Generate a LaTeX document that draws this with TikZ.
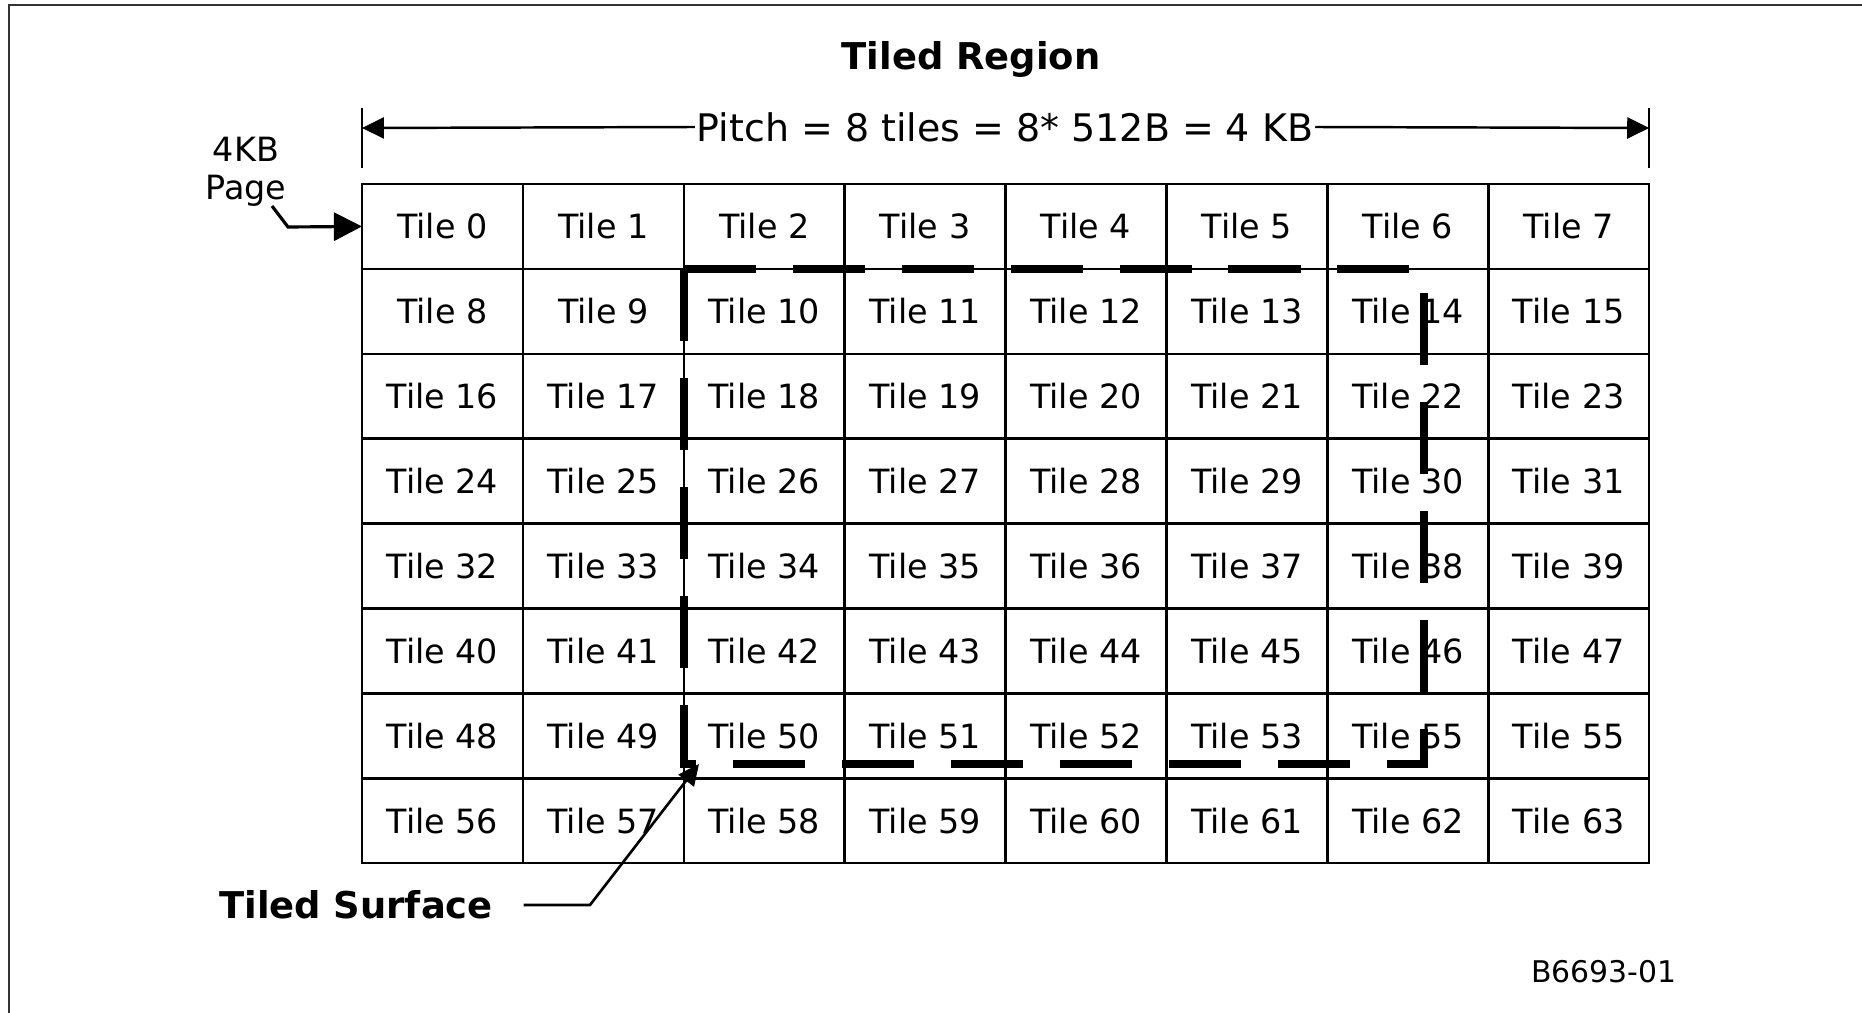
\documentclass[tikz,border=0pt]{standalone}
\usepackage{fontspec}
\setmainfont{DejaVu Sans}
\usetikzlibrary{arrows.meta, positioning}

\tikzset{
  tilebox/.style={draw, line width=1.4pt, outer sep=0pt, inner sep=0pt, anchor=north west,
    minimum width=3.218cm, minimum height=1.698cm, font=\fontsize{19}{23}\selectfont},
  surfline/.style={line width=4.8pt, dash pattern=on 41pt off 21pt},
  callout/.style={line width=1.8pt, -{Triangle[length=16pt,width=16pt]}},
  dimarrow/.style={line width=1.4pt, -{Triangle[length=12.5pt,width=12pt]}},
}

\begin{document}
\begin{tikzpicture}[x=0.02cm, y=-0.02cm]
\useasboundingbox (0,0) rectangle (1862,1013);

% frame
\draw[line width=1.3pt, black!80] (9,1013) -- (9,5) -- (1862,5);

\node (title) at (971,59) {\fontsize{21}{25}\selectfont\bfseries Tiled Region};

% tiles
\foreach \r in {0,...,7} {
  \foreach \c in {0,...,7} {
    \pgfmathtruncatemacro\n{8*\r+\c}
    \ifnum\n=54 \def\lbl{55}\else\let\lbl\n\fi
    \node[tilebox] (t\n) at ({362+160.9*\c},{184+84.9*\r}) {Tile \lbl};
  }
}

% pitch
\draw[line width=1.4pt] (t0.north west) ++(0,-76) -- ++(0,60);
\draw[line width=1.4pt] (t7.north east) ++(0,-76) -- ++(0,60);
\coordinate (tickL) at (t0.north west |- 0,128);
\coordinate (tickR) at (t7.north east |- 0,128);
\node[inner sep=1pt, font=\fontsize{21.6}{25}\selectfont] (pitch) at (1005,127) {Pitch = 8 tiles = 8* 512B = 4 KB};
\draw[dimarrow] (pitch.west) -- (tickL);
\draw[dimarrow] (pitch.east) -- (tickR);

% 4KB page
\node[align=center, font=\fontsize{19}{21.5}\selectfont] (page) at (246,172) {4KB\\Page};
\coordinate (pagefoot) at (272,206);
\draw[callout] (pagefoot) -- (288,227) -- (t0.west);

% tiled surface
\coordinate (sTL) at (t10.north west);
\coordinate (sBR) at (1424,764);
\draw[surfline] (sTL) -- (sTL -| sBR);
\draw[surfline] (sTL) -- (sTL |- sBR) -- (sBR) -- (sTL -| sBR);

\node[font=\fontsize{21}{25}\selectfont\bfseries] (surf) at (356,905) {Tiled Surface};
\coordinate (surftip) at (699,764);
\draw[line width=1.5pt, -{Triangle[length=12pt,width=11pt]}] ([xshift=14pt]surf.east) -- (590,905) -- (surftip);

\node[font=\fontsize{17}{20}\selectfont] (fig) at (1604,972) {B6693-01};
\end{tikzpicture}
\end{document}
